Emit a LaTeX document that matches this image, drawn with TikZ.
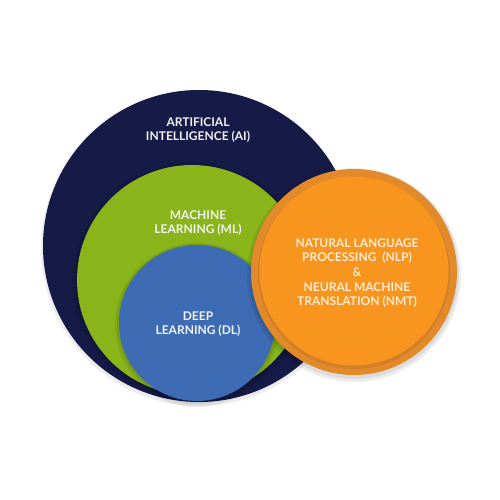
\documentclass[tikz,border=0pt]{standalone}
\usepackage{fontspec}
\setmainfont{Lato}
\definecolor{navy}{HTML}{161A47}
\definecolor{mlgreen}{HTML}{8AB51A}
\definecolor{dlblue}{HTML}{3D6CB4}
\definecolor{nlporange}{HTML}{F7951F}
\definecolor{nlpring}{HTML}{E2892A}
\definecolor{lighttext}{HTML}{F2F2F2}
\definecolor{creamtext}{HTML}{FDEBD2}
\begin{document}
\begin{tikzpicture}[x=1pt,y=-1pt,
  disc/.style={circle,inner sep=0pt,draw=none},
  shade1/.style={circle,inner sep=0pt,draw=none,fill=black,fill opacity=0.07},
  label/.style={align=center,font=\fontsize{12}{14.6}\selectfont\bfseries,text=lighttext}]
\useasboundingbox (0,0) rectangle (500,500);
\fill[white] (0,0) rectangle (500,500);
% Artificial intelligence
\node[shade1,minimum size=316pt] (aish) at (199,248) {};
\node[disc,fill=navy,minimum size=312pt] (ai) at (199,246) {};
% Machine learning
\node[shade1,minimum size=238pt] (mlsh2) at (192,282) {};
\node[shade1,minimum size=234pt] (mlsh) at (192,281) {};
\node[disc,fill=mlgreen,minimum size=230pt] (ml) at (192,280) {};
% Deep learning
\node[shade1,minimum size=164pt] (dlsh2) at (197,325) {};
\node[shade1,minimum size=160pt] (dlsh) at (197,324) {};
\node[disc,fill=dlblue,minimum size=156pt] (dl) at (197,323) {};
% NLP / NMT
\node[shade1,minimum size=214pt] (nlpsh2) at (354,275) {};
\node[shade1,minimum size=210pt] (nlpsh) at (354,274) {};
\node[disc,fill=nlpring,minimum size=206pt] (nlpo) at (354,272) {};
\node[shade1,minimum size=192pt] (nlpish) at (354,273) {};
\node[disc,fill=nlporange,minimum size=189pt] (nlp) at (354,271) {};
% Labels
\node[label] (ait) at (198,130) {ARTIFICIAL\\INTELLIGENCE (AI)};
\node[label] (mlt) at (198,223) {MACHINE\\LEARNING (ML)};
\node[label] (dlt) at (198,324) {DEEP\\LEARNING (DL)};
\node[label,text=creamtext] (nlpt) at (357,273) {NATURAL LANGUAGE\\PROCESSING\ \ (NLP)\\\&\\NEURAL MACHINE\\TRANSLATION (NMT)};
\end{tikzpicture}
\end{document}
